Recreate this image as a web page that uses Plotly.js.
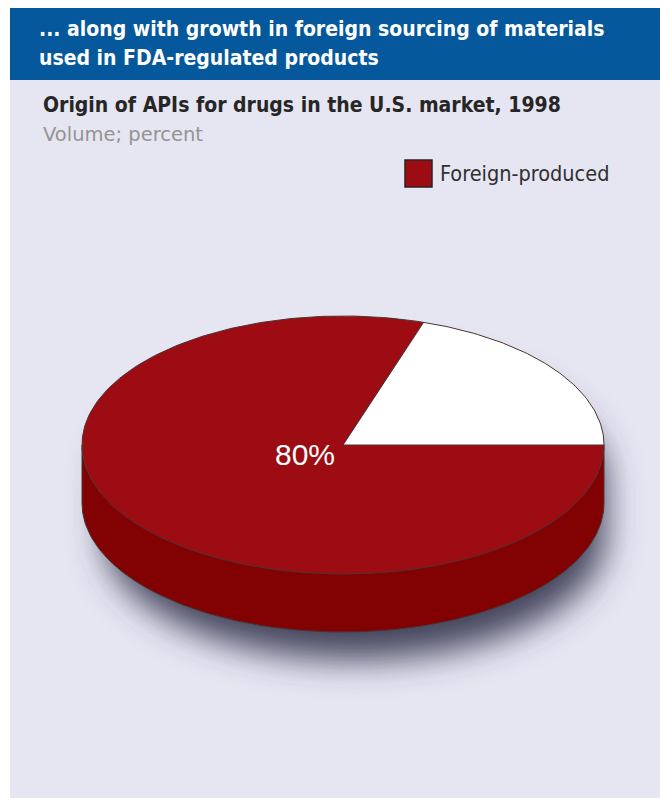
<!DOCTYPE html>
<html>
<head>
<meta charset="utf-8">
<script src="https://cdn.plot.ly/plotly-3.0.1.min.js"></script>
<style>html,body{margin:0;padding:0;background:#fff;}#chart{width:660px;height:799px;}</style>
</head>
<body>
<div id="chart"></div>
<script>
// ---- data ----
const categories = ['Domestic', 'Foreign-produced'];
const shares = [20, 80];
const valueLabels = ['', '80%'];
const legendCategories = ['Foreign-produced'];

// ---- styles ----
const topColors = ['#ffffff', '#9d0c12'];
const sideColors = ['#d9d9d9', '#820102'];
const edgeColor = '#4a3434';

// ---- 3D pie geometry (pixel units on hidden axes) ----
const CX = 343, CY = 445, RX = 261, RY = 129, DEPTH = 58;
const DEG = Math.PI / 180;
function pt(t, dy) { return [CX + RX * Math.cos(t), CY - RY * Math.sin(t) + (dy || 0)]; }
function arc(t0, t1, dy) {
  const xs = [], ys = [];
  const n = Math.max(2, Math.ceil(Math.abs(t1 - t0) / DEG));
  for (let i = 0; i <= n; i++) { const p = pt(t0 + (t1 - t0) * i / n, dy); xs.push(p[0]); ys.push(p[1]); }
  return [xs, ys];
}

const total = shares.reduce((s, v) => s + v, 0);
const traces = [];

// shadow of whole pie silhouette
(function () {
  const up = arc(0, Math.PI, 0), down = arc(Math.PI, 2 * Math.PI, DEPTH);
  const off = [12, 34], shrink = 0.96;
  const sx = v => CX + (v - CX) * shrink + off[0];
  const sy = v => CY + DEPTH / 2 + (v - CY - DEPTH / 2) * shrink + off[1];
  traces.push({
    type: 'scatter', mode: 'lines', fill: 'toself',
    x: up[0].concat(down[0]).map(sx),
    y: up[1].concat(down[1]).map(sy),
    fillcolor: 'rgba(60,60,85,0.95)', line: { width: 0 },
    hoverinfo: 'skip', showlegend: false, name: 'shadow'
  });
})();

// slices
let acc = 0;
const sliceAngles = shares.map(v => { const t0 = acc / total * 2 * Math.PI; acc += v; return [t0, acc / total * 2 * Math.PI]; });

// side walls (front half: pi..2pi)
sliceAngles.forEach(([t0, t1], i) => {
  const s0 = Math.max(t0, Math.PI), s1 = Math.min(t1, 2 * Math.PI);
  if (s1 <= s0) return;
  const top = arc(s0, s1, 0), bot = arc(s1, s0, DEPTH);
  traces.push({
    type: 'scatter', mode: 'lines', fill: 'toself',
    x: top[0].concat(bot[0]), y: top[1].concat(bot[1]),
    fillcolor: sideColors[i], line: { width: 0 },
    hoverinfo: 'skip', showlegend: false, name: categories[i] + ' side'
  });
});

// top faces
sliceAngles.forEach(([t0, t1], i) => {
  const a = arc(t0, t1, 0);
  traces.push({
    type: 'scatter', mode: 'lines', fill: 'toself',
    x: [CX].concat(a[0], [CX]), y: [CY].concat(a[1], [CY]),
    fillcolor: topColors[i], line: { width: 0 },
    name: categories[i], showlegend: false,
    text: categories[i] + ': ' + shares[i] + '%', hoverinfo: 'text'
  });
});

// outlines
(function () {
  const full = arc(0, 2 * Math.PI, 0);
  const bot = arc(Math.PI, 2 * Math.PI, DEPTH);
  const L = pt(Math.PI, 0), Lb = pt(Math.PI, DEPTH), R = pt(0, 0), Rb = pt(0, DEPTH);
  let xs = full[0].concat([null], bot[0], [null, L[0], Lb[0], null, R[0], Rb[0]]);
  let ys = full[1].concat([null], bot[1], [null, L[1], Lb[1], null, R[1], Rb[1]]);
  sliceAngles.forEach(([t0]) => { const p = pt(t0, 0); xs.push(null, CX, p[0]); ys.push(null, CY, p[1]); });
  traces.push({
    type: 'scatter', mode: 'lines', x: xs, y: ys,
    line: { color: edgeColor, width: 1 }, hoverinfo: 'skip', showlegend: false, name: 'edges'
  });
})();

// value labels
sliceAngles.forEach(([t0, t1], i) => {
  if (!valueLabels[i]) return;
  const mid = (t0 + t1) / 2;
  const x = CX + RX * 0.18 * Math.cos(mid), y = CY - RY * 0.16 * Math.sin(mid);
  traces.push({
    type: 'scatter', mode: 'text', x: [x], y: [y], text: [valueLabels[i]],
    textfont: { family: 'Liberation Sans, Arial, sans-serif', size: 30, color: '#ffffff' },
    textposition: 'middle center', hoverinfo: 'skip', showlegend: false
  });
});

const DARK = '#262626';
const COND = 'DejaVu Sans Condensed, DejaVu Sans, sans-serif';
const py = v => 1 - v / 799, px = v => v / 660;
const layout = {
  width: 660, height: 799,
  margin: { l: 0, r: 0, t: 0, b: 0 },
  paper_bgcolor: '#ffffff', plot_bgcolor: 'rgba(0,0,0,0)',
  showlegend: false,
  xaxis: { range: [0, 660], visible: false, fixedrange: true },
  yaxis: { range: [799, 0], visible: false, fixedrange: true },
  shapes: [
    { type: 'rect', xref: 'paper', yref: 'paper', x0: px(10), x1: 1, y0: py(798), y1: py(8),
      fillcolor: '#e6e5f2', line: { width: 0 }, layer: 'below' },
    { type: 'rect', xref: 'paper', yref: 'paper', x0: px(10), x1: 1, y0: py(80), y1: py(8),
      fillcolor: '#05589b', line: { width: 0 }, layer: 'below' },
    { type: 'rect', xref: 'paper', yref: 'paper', x0: px(405), x1: px(432), y0: py(187), y1: py(160),
      fillcolor: topColors[1], line: { color: '#2a2222', width: 1.5 } }
  ],
  annotations: [
    { xref: 'paper', yref: 'paper', x: px(37), y: py(29), xanchor: 'left', yanchor: 'middle',
      showarrow: false, text: '<b>... along with growth in foreign sourcing of materials</b>',
      font: { family: COND, size: 21, color: '#ffffff' } },
    { xref: 'paper', yref: 'paper', x: px(37), y: py(58), xanchor: 'left', yanchor: 'middle',
      showarrow: false, text: '<b>used in FDA-regulated products</b>',
      font: { family: COND, size: 21, color: '#ffffff' } },
    { xref: 'paper', yref: 'paper', x: px(41), y: py(105), xanchor: 'left', yanchor: 'middle',
      showarrow: false, text: '<b>Origin of APIs for drugs in the U.S. market, 1998</b>',
      font: { family: COND, size: 21, color: DARK } },
    { xref: 'paper', yref: 'paper', x: px(41), y: py(135), xanchor: 'left', yanchor: 'middle',
      showarrow: false, text: 'Volume; percent',
      font: { family: 'DejaVu Sans, sans-serif', size: 19.5, color: '#949494' } },
    { xref: 'paper', yref: 'paper', x: px(438), y: py(173), xanchor: 'left', yanchor: 'middle',
      showarrow: false, text: legendCategories[0],
      font: { family: COND, size: 21.5, color: '#303030' } }
  ]
};

Plotly.newPlot('chart', traces, layout, { displayModeBar: false, staticPlot: true }).then(gd => {
  const NS = 'http://www.w3.org/2000/svg';
  const svg = gd.querySelector('svg.main-svg');
  let defs = svg.querySelector('defs');
  if (!defs) { defs = document.createElementNS(NS, 'defs'); svg.insertBefore(defs, svg.firstChild); }
  const filt = document.createElementNS(NS, 'filter');
  filt.setAttribute('id', 'pieShadowBlur');
  filt.setAttribute('x', '-30%'); filt.setAttribute('y', '-50%');
  filt.setAttribute('width', '160%'); filt.setAttribute('height', '200%');
  const blur = document.createElementNS(NS, 'feGaussianBlur');
  blur.setAttribute('stdDeviation', '17');
  filt.appendChild(blur);
  defs.appendChild(filt);
  const tr = gd.querySelectorAll('.scatterlayer .trace');
  if (tr.length) {
    const f = tr[0].querySelector('.js-fill');
    if (f) f.setAttribute('filter', 'url(#pieShadowBlur)');
  }
});
</script>
</body>
</html>
